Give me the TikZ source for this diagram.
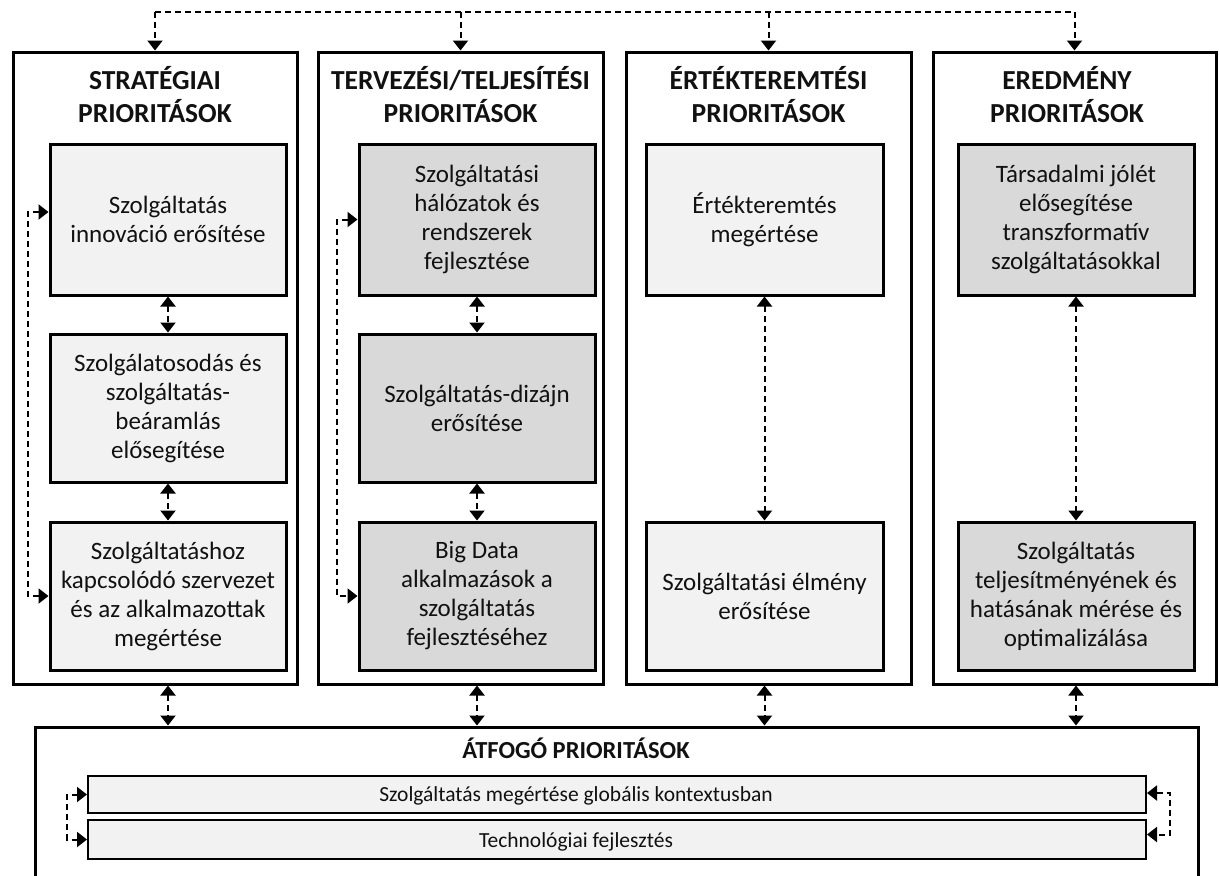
\documentclass[tikz,border=0pt]{standalone}
\usepackage{fontspec}
\setmainfont{Carlito}
\usetikzlibrary{arrows.meta,calc}
\definecolor{lightfill}{HTML}{F2F2F2}
\definecolor{darkfill}{HTML}{D9D9D9}
\definecolor{txt}{HTML}{111111}
\tikzset{
  colbox/.style={draw, line width=3pt, fill=white, rectangle, inner sep=0pt},
  coltitle/.style={font=\bfseries\fontsize{27.5}{33}\selectfont, align=center, inner sep=0pt, text=txt},
  bottitle/.style={font=\bfseries\fontsize{24.5}{30}\selectfont, inner sep=0pt, text=txt},
  lbox/.style={draw, line width=3pt, fill=lightfill, rectangle, inner sep=0pt,
    minimum width=236pt, align=center, font=\fontsize{25}{29}\selectfont, text=txt},
  dbox/.style={lbox, fill=darkfill},
  barbox/.style={draw, line width=2pt, fill=lightfill, rectangle, inner sep=0pt, minimum width=1058pt},
  bartext/.style={font=\fontsize{21.5}{26}\selectfont, inner sep=0pt, text=txt},
  dl/.style={dashed, dash pattern=on 6pt off 4pt, line width=2pt},
  tip/.tip={Triangle[length=10pt,width=15pt]},
}
\begin{document}
\begin{tikzpicture}[x=1pt,y=-1pt]
\useasboundingbox (0,0) rectangle (1219,876);
\clip (0,0) rectangle (1219,876);
% columns
\node[colbox, minimum width=284pt, minimum height=632pt] (col1) at (155,368) {};
\node[colbox, minimum width=285pt, minimum height=632pt] (col2) at (460.5,368) {};
\node[colbox, minimum width=285pt, minimum height=632pt] (col3) at (768.5,368) {};
\node[colbox, minimum width=283pt, minimum height=632pt] (col4) at (1074.5,368) {};
% titles (base = last line)
\node[coltitle, anchor=base] (t1) at (155,122) {STRATÉGIAI\\PRIORITÁSOK};
\node[coltitle, anchor=base] (t2) at (460.5,122) {TERVEZÉSI/TELJESÍTÉSI\\PRIORITÁSOK};
\node[coltitle, anchor=base] (t3) at (768.5,122) {ÉRTÉKTEREMTÉSI\\PRIORITÁSOK};
\node[coltitle, anchor=base] (t4) at (1067,122) {EREDMÉNY\\PRIORITÁSOK};
% inner boxes column 1
\node[lbox, minimum height=151pt] (a11) at (168,219.5) {Szolgáltatás\\innováció erősítése};
\node[lbox, minimum height=148pt] (a12) at (168,408) {Szolgálatosodás és\\szolgáltatás-\\beáramlás\\elősegítése};
\node[lbox, minimum height=148pt] (a13) at (168,596) {Szolgáltatáshoz\\kapcsolódó szervezet\\és az alkalmazottak\\megértése};
% column 2
\node[dbox, minimum height=151pt] (a21) at (477,219.5) {Szolgáltatási\\hálózatok és\\rendszerek\\fejlesztése};
\node[dbox, minimum height=148pt] (a22) at (477,408) {Szolgáltatás-dizájn\\erősítése};
\node[dbox, minimum height=148pt] (a23) at (477,596) {Big Data\\alkalmazások a\\szolgáltatás\\fejlesztéséhez};
% column 3
\node[lbox, minimum width=237pt, minimum height=151pt] (a31) at (764.5,219.5) {Értékteremtés\\megértése};
\node[lbox, minimum width=237pt, minimum height=148pt] (a32) at (764.5,596) {Szolgáltatási élmény\\erősítése};
% column 4
\node[dbox, minimum height=151pt] (a41) at (1076,219.5) {Társadalmi jólét\\elősegítése\\transzformatív\\szolgáltatásokkal};
\node[dbox, minimum height=148pt] (a42) at (1076,596) {Szolgáltatás\\teljesítményének és\\hatásának mérése és\\optimalizálása};
% bottom box
\node[colbox, minimum width=1163pt, minimum height=183pt] (bot) at (616.5,818.5) {};
\node[bottitle, anchor=base] (tb) at (576,758) {ÁTFOGÓ PRIORITÁSOK};
\node[barbox, minimum height=37pt] (bar1) at (617,794.5) {};
\node[barbox, minimum height=39pt] (bar2) at (617,839.5) {};
\node[bartext, anchor=base] (bt1) at (576,801) {Szolgáltatás megértése globális kontextusban};
\node[bartext, anchor=base] (bt2) at (576,847) {Technológiai fejlesztés};
% top connector
\coordinate (topline) at (0,12);
\draw[dl] (topline -| col1.north) -- (topline -| col4.north);
\foreach \c in {col1,col2,col3,col4}{
  \draw[dl,-tip] (topline -| \c.north) -- (\c.north);
}
% inner vertical connectors
\draw[dl,tip-tip] (a11.south) -- (a12.north);
\draw[dl,tip-tip] (a12.south) -- (a13.north);
\draw[dl,tip-tip] (a21.south) -- (a22.north);
\draw[dl,tip-tip] (a22.south) -- (a23.north);
\draw[dl,tip-tip] (a31.south) -- (a32.north);
\draw[dl,tip-tip] (a41.south) -- (a42.north);
% column to bottom connectors
\draw[dl,tip-tip] (a13.south |- col1.south) -- (a13.south |- bot.north);
\draw[dl,tip-tip] (a23.south |- col2.south) -- (a23.south |- bot.north);
\draw[dl,tip-tip] (a32.south |- col3.south) -- (a32.south |- bot.north);
\draw[dl,tip-tip] (a42.south |- col4.south) -- (a42.south |- bot.north);
% side loops
\draw[dl,tip-tip] ($(a11.west)+(0,-7.5)$) -- ++(-20.5,0) |- (a13.west);
\draw[dl,tip-tip] (a21.west) -- ++(-20.5,0) |- (a23.west);
\draw[dl,tip-tip] (bar1.west) -- ++(-20,0) |- (bar2.west);
\draw[dl,tip-tip] ($(bar1.east)+(0,-1.5)$) -- ++(23,0) |- ($(bar2.east)+(0,-5)$);
\end{tikzpicture}
\end{document}
